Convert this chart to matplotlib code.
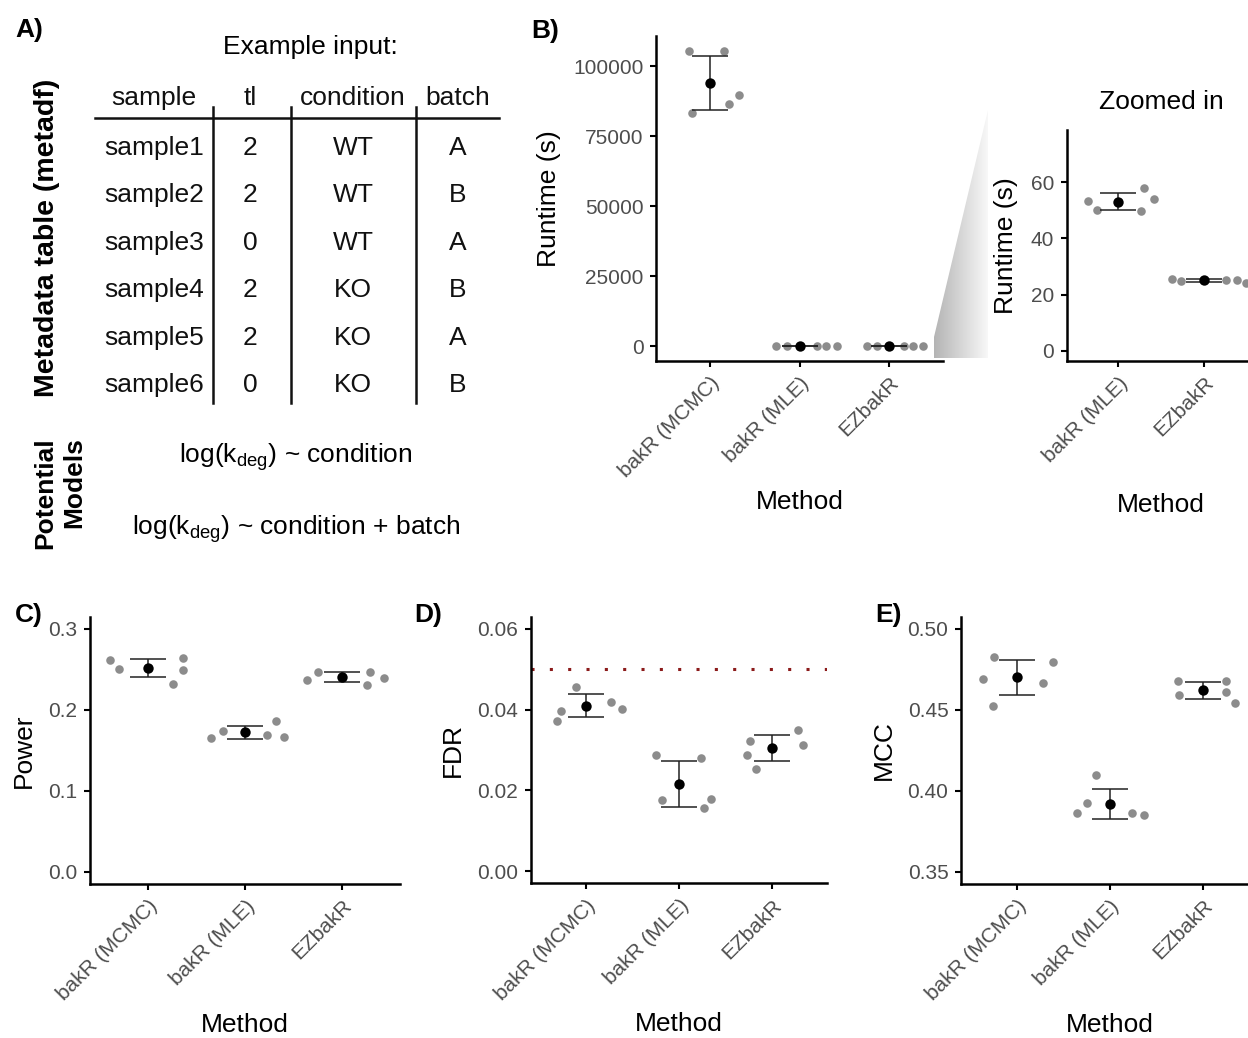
import numpy as np
import matplotlib
matplotlib.use('Agg')
import matplotlib.pyplot as plt
from matplotlib.patches import Polygon
from matplotlib.colors import LinearSegmentedColormap
from matplotlib.ticker import FormatStrFormatter

plt.rcParams['font.family'] = ['Liberation Sans', 'DejaVu Sans']
plt.rcParams['mathtext.fontset'] = 'custom'
plt.rcParams['mathtext.rm'] = 'Liberation Sans'
plt.rcParams['mathtext.it'] = 'Liberation Sans:italic'

# ---- data -------------------------------------------------------------
methods = ['bakR (MCMC)', 'bakR (MLE)', 'EZbakR']

# panel A table
tbl_header = ['sample', 'tl', 'condition', 'batch']
tbl_sample = ['sample1', 'sample2', 'sample3', 'sample4', 'sample5', 'sample6']
tbl_tl = ['2', '2', '0', '2', '2', '0']
tbl_condition = ['WT', 'WT', 'WT', 'KO', 'KO', 'KO']
tbl_batch = ['A', 'B', 'A', 'B', 'A', 'B']
models = [r'log(k$_{\mathrm{deg}}$) ~ condition',
          r'log(k$_{\mathrm{deg}}$) ~ condition + batch']

# runtime (s), 5 replicates per method
runtime_mcmc = [105400, 105600, 83300, 86400, 89700]
runtime_mle = [53.5, 50.1, 58.2, 49.9, 54.1]
runtime_ez = [25.7, 24.8, 25.2, 25.3, 24.1]

power_mcmc = [0.2619, 0.2508, 0.2643, 0.2495, 0.2323]
power_mle = [0.1657, 0.1739, 0.1689, 0.1866, 0.1665]
power_ez = [0.2363, 0.2471, 0.2306, 0.2466, 0.2397]

fdr_mcmc = [0.03715, 0.03977, 0.04569, 0.04191, 0.04027]
fdr_mle = [0.02877, 0.01768, 0.02794, 0.0157, 0.01775]
fdr_ez = [0.02868, 0.03222, 0.02532, 0.03501, 0.03131]
fdr_target = 0.05

mcc_mcmc = [0.4688, 0.4526, 0.4828, 0.4668, 0.4797]
mcc_mle = [0.3864, 0.3925, 0.4100, 0.3866, 0.3854]
mcc_ez = [0.4680, 0.4589, 0.4680, 0.4610, 0.4542]

# horizontal jitter of the replicate dots (as drawn)
jit_b = [[-0.23, 0.16, -0.20, 0.21, 0.33], [-0.26, -0.14, 0.19, 0.30, 0.42], [-0.25, -0.14, 0.17, 0.27, 0.38]]
jit_zoom = [[-0.35, -0.245, 0.30, 0.26, 0.41], [-0.38, -0.27, 0.25, 0.38, 0.49]]
jit_c = [[-0.39, -0.30, 0.36, 0.36, 0.26], [-0.35, -0.23, 0.23, 0.32, 0.40], [-0.36, -0.25, 0.26, 0.29, 0.43]]
jit_d = [[-0.32, -0.27, -0.11, 0.27, 0.39], [-0.25, -0.18, 0.24, 0.27, 0.35], [-0.27, -0.23, -0.17, 0.28, 0.34]]
jit_e = [[-0.36, -0.26, -0.24, 0.28, 0.39], [-0.35, -0.24, -0.15, 0.24, 0.37], [-0.27, -0.26, 0.25, 0.25, 0.35]]

# ---- figure -----------------------------------------------------------
W, H = 1248, 1038
fig = plt.figure(figsize=(W / 100, H / 100), dpi=100)
fig.patch.set_facecolor('white')

# background axes in pixel coords for panel A, letters and the zoom wedge
bg = fig.add_axes([0, 0, 1, 1])
bg.axis('off')

TXT = 19
TICK_COL = '#4D4D4D'


def px_axes(x0, y0, x1, y1):
    ax = fig.add_axes([x0 / W, 1 - y1 / H, (x1 - x0) / W, (y1 - y0) / H])
    ax.set_facecolor('none')
    return ax


def style(ax, ylabel, xlab_y, ylab_x, yticks, fmt):
    for s in ['top', 'right']:
        ax.spines[s].set_visible(False)
    for s in ['left', 'bottom']:
        ax.spines[s].set_linewidth(1.8)
    ax.tick_params(width=1.5, length=4, labelsize=15, colors='black', labelcolor=TICK_COL, pad=5)
    ax.set_yticks(yticks)
    ax.yaxis.set_major_formatter(FormatStrFormatter(fmt))
    ax.set_xlabel('Method', fontsize=TXT)
    ax.set_ylabel(ylabel, fontsize=TXT)
    ax.xaxis.set_label_coords(0.5, xlab_y)
    ax.yaxis.set_label_coords(ylab_x, 0.5)
    ax.xaxis.label.set_va('center')
    ax.yaxis.label.set_va('center')


def dots(ax, groups, jits, labels):
    for i, (vals, jit) in enumerate(zip(groups, jits)):
        x = i + 1
        vals = np.asarray(vals)
        ax.scatter(x + np.asarray(jit), vals, s=38, color='#8C8C8C', lw=0, zorder=2)
        m, sd = vals.mean(), vals.std()
        ax.errorbar(x, m, yerr=sd, fmt='none', ecolor='#222222', elinewidth=1.1,
                    capsize=13, capthick=1.1, zorder=3)
        ax.scatter(x, m, s=56, color='black', lw=0, zorder=4)
    ax.set_xlim(0.4, len(groups) + 0.6)
    ax.set_xticks(range(1, len(groups) + 1))
    ax.set_xticklabels(labels, rotation=45, ha='right', rotation_mode='anchor', fontsize=16)


# ---- panel A ----------------------------------------------------------
col_x = [154, 250, 353, 458]
for cx, h in zip(col_x, tbl_header):
    bg.text(cx, 98, h, fontsize=TXT, ha='center', va='center', color='#111111')
row_y = [148 + 47.4 * i for i in range(len(tbl_sample))]
for cx, col in zip(col_x, [tbl_sample, tbl_tl, tbl_condition, tbl_batch]):
    for ry, v in zip(row_y, col):
        bg.text(cx, ry, v, fontsize=TXT, ha='center', va='center', color='#111111')
bg.plot([95, 499], [117.7, 117.7], color='#111111', lw=1.8)
for vx in [213, 290.7, 416]:
    bg.plot([vx, vx], [107, 403], color='#111111', lw=1.8)
bg.text(310, 47, 'Example input:', fontsize=TXT, ha='center', va='center')
bg.text(47, 238, 'Metadata table (metadf)', fontsize=20.5, fontweight='bold',
        rotation=90, ha='center', va='center')
bg.text(60, 493, 'Potential\nModels', fontsize=TXT, fontweight='bold', rotation=90,
        ha='center', va='center', multialignment='right', linespacing=1.25)
bg.text(296, 457, models[0], fontsize=TXT, ha='center', va='center')
bg.text(296, 529, models[1], fontsize=TXT, ha='center', va='center')

# panel letters
for lx, ly, lab in [(15, 37, 'A)'), (531, 38, 'B)'), (15, 622, 'C)'), (414, 622, 'D)'), (875, 622, 'E)')]:
    bg.text(lx, ly, lab, fontsize=TXT, fontweight='bold', ha='left', va='baseline')

# zoom wedge between B and its inset
wedge = Polygon([(934, 358), (934, 337), (988, 110), (988, 358)], closed=True, fc='none', ec='none')
bg.add_patch(wedge)
grad = np.linspace(0, 1, 256).reshape(1, -1)
cmap = LinearSegmentedColormap.from_list('wedge', ['#B4B4B4', '#F8F8F8'])
im = bg.imshow(grad, extent=(934, 988, 358, 110), cmap=cmap, aspect='auto', interpolation='bilinear')
im.set_clip_path(wedge)
bg.set_xlim(0, W)
bg.set_ylim(H, 0)

# ---- panel B ----------------------------------------------------------
axb = px_axes(656, 36, 943, 361)
dots(axb, [runtime_mcmc, runtime_mle, runtime_ez], jit_b, methods)
axb.set_ylim(-5280, 110880)
style(axb, 'Runtime (s)', -0.434, -0.373, [0, 25000, 50000, 75000, 100000], '%d')

axz = px_axes(1066.7, 130, 1255.9, 361)
dots(axz, [runtime_mle, runtime_ez], jit_zoom, methods[1:])
axz.set_ylim(-3.75, 78.75)
style(axz, 'Runtime (s)', -0.623, -0.321, [0, 20, 40, 60], '%d')
axz.set_title('Zoomed in', fontsize=TXT, pad=15)

# ---- panels C, D, E ---------------------------------------------------
axc = px_axes(90, 616.7, 400, 884)
dots(axc, [power_mcmc, power_mle, power_ez], jit_c, methods)
axc.set_ylim(-0.015, 0.315)
style(axc, 'Power', -0.528, -0.213, [0.0, 0.1, 0.2, 0.3], '%.1f')

axd = px_axes(530.7, 616.7, 827.3, 883.3)
axd.axhline(fdr_target, color='#8B1A1A', lw=2.2, ls=(0, (1, 5)), zorder=1)
dots(axd, [fdr_mcmc, fdr_mle, fdr_ez], jit_d, methods)
axd.set_ylim(-0.003, 0.063)
style(axd, 'FDR', -0.528, -0.264, [0.0, 0.02, 0.04, 0.06], '%.2f')

axe = px_axes(961, 616.7, 1258.6, 884)
dots(axe, [mcc_mcmc, mcc_mle, mcc_ez], jit_e, methods)
axe.set_ylim(0.3425, 0.5075)
style(axe, 'MCC', -0.528, -0.259, [0.35, 0.40, 0.45, 0.50], '%.2f')

fig.savefig('out.png', dpi=100, facecolor='white')
